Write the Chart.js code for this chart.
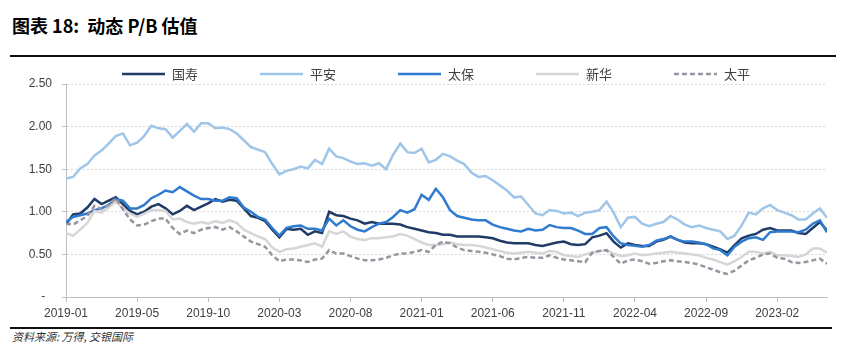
<!DOCTYPE html>
<html><head><meta charset="utf-8">
<script src="https://cdn.jsdelivr.net/npm/chart.js@4.4.1/dist/chart.umd.min.js"></script>
<style>
html,body{margin:0;padding:0;background:#fff;width:842px;height:355px;overflow:hidden;}
#title{position:absolute;left:12px;top:12px;font:bold 18px "Noto Sans CJK SC","Noto Sans",sans-serif;color:#000;white-space:nowrap;}
#rule1{position:absolute;left:10px;top:55px;width:826px;height:2px;background:#111;}
#wrap{position:absolute;left:0;top:57px;width:842px;height:270px;}
#rule2{position:absolute;left:10px;top:327px;width:822px;height:2px;background:#111;}
#src{position:absolute;left:12px;top:328px;font:italic 11px "Noto Sans CJK SC",sans-serif;color:#333;white-space:nowrap;}
</style></head>
<body>
<div id="title">图表 18:&nbsp; 动态 P/B 估值</div>
<div id="rule1"></div>
<div id="wrap"><canvas id="c" width="842" height="270"></canvas></div>
<div id="rule2"></div>
<div id="src">资料来源: 万得, 交银国际</div>
<script>
// half-month samples starting 2019-01
const seriesNames = ['国寿','平安','太保','新华','太平'];
const tickLabels = ['2019-01','2019-05','2019-10','2020-03','2020-08','2021-01','2021-06','2021-11','2022-04','2022-09','2023-02'];
const yTickLabels = ['-  ','0.50','1.00','1.50','2.00','2.50'];

const guoshou = [0.85,0.97,0.98,1.05,1.15,1.09,1.13,1.17,1.09,1.01,0.97,1.00,1.06,1.09,1.04,0.97,1.01,1.07,1.02,1.06,1.10,1.15,1.12,1.14,1.13,1.04,0.95,0.93,0.89,0.79,0.70,0.80,0.79,0.80,0.73,0.77,0.75,1.00,0.96,0.95,0.92,0.90,0.86,0.88,0.86,0.86,0.86,0.85,0.82,0.80,0.78,0.76,0.75,0.73,0.73,
 0.71,0.71,0.71,0.71,0.70,0.69,0.66,0.64,0.63,0.63,0.63,0.61,0.60,0.62,0.64,0.65,0.62,0.61,0.62,0.70,0.72,0.75,0.65,0.58,0.63,0.61,0.60,0.60,0.65,0.67,0.71,0.67,0.64,0.63,0.63,0.62,0.59,0.56,0.52,0.61,0.69,0.72,0.74,0.79,0.81,0.78,0.78,0.78,0.75,0.74,0.81,0.88,0.78];
const pingan = [1.39,1.41,1.51,1.56,1.66,1.72,1.80,1.89,1.92,1.78,1.81,1.89,2.01,1.98,1.97,1.87,1.95,2.03,1.94,2.04,2.04,1.98,1.99,1.97,1.92,1.84,1.76,1.73,1.70,1.56,1.44,1.48,1.50,1.53,1.51,1.61,1.56,1.74,1.65,1.63,1.59,1.56,1.57,1.54,1.57,1.50,1.67,1.80,1.70,1.69,1.74,1.58,1.61,1.68,1.65,
 1.60,1.56,1.46,1.41,1.42,1.37,1.31,1.25,1.17,1.18,1.08,0.98,0.96,1.02,1.01,0.98,0.99,0.95,0.99,1.00,1.02,1.12,0.99,0.82,0.93,0.94,0.86,0.83,0.86,0.88,0.95,0.91,0.85,0.82,0.84,0.81,0.79,0.77,0.68,0.72,0.84,0.99,0.97,1.04,1.08,1.02,0.99,0.96,0.91,0.91,0.98,1.04,0.93];
const taibao = [0.88,0.94,0.96,0.98,1.02,1.04,1.08,1.15,1.13,1.04,1.04,1.08,1.16,1.20,1.25,1.23,1.29,1.24,1.19,1.15,1.15,1.13,1.13,1.17,1.16,1.05,1.00,0.94,0.91,0.81,0.72,0.81,0.83,0.84,0.80,0.80,0.78,0.92,0.84,0.90,0.83,0.79,0.77,0.82,0.86,0.88,0.94,1.02,0.99,1.03,1.20,1.14,1.27,1.17,1.02,
 0.95,0.93,0.91,0.90,0.90,0.85,0.82,0.80,0.78,0.77,0.80,0.78,0.79,0.845,0.82,0.81,0.81,0.78,0.74,0.74,0.81,0.82,0.71,0.63,0.61,0.60,0.59,0.61,0.66,0.68,0.71,0.67,0.65,0.65,0.64,0.62,0.57,0.55,0.49,0.59,0.65,0.69,0.70,0.67,0.76,0.77,0.77,0.77,0.76,0.79,0.86,0.90,0.76];
const xinhua = [0.75,0.72,0.79,0.87,1.01,0.99,1.05,1.12,1.04,0.98,0.94,0.98,1.02,1.02,1.01,0.91,0.92,0.88,0.86,0.88,0.86,0.89,0.87,0.90,0.87,0.79,0.75,0.71,0.68,0.58,0.53,0.56,0.57,0.59,0.61,0.63,0.59,0.77,0.74,0.77,0.71,0.68,0.67,0.69,0.69,0.70,0.71,0.74,0.72,0.68,0.64,0.61,0.61,0.62,0.64,
 0.62,0.61,0.61,0.60,0.58,0.56,0.54,0.52,0.51,0.52,0.53,0.52,0.51,0.54,0.53,0.49,0.48,0.47,0.50,0.52,0.54,0.55,0.51,0.48,0.49,0.51,0.49,0.50,0.51,0.52,0.53,0.52,0.51,0.50,0.49,0.46,0.44,0.41,0.38,0.42,0.47,0.53,0.53,0.51,0.53,0.49,0.49,0.48,0.47,0.50,0.57,0.57,0.52];
const taiping = [0.86,0.85,0.90,0.95,1.07,1.03,1.08,1.16,1.03,0.91,0.84,0.85,0.89,0.92,0.92,0.81,0.74,0.78,0.75,0.79,0.81,0.82,0.79,0.82,0.77,0.71,0.65,0.62,0.59,0.49,0.42,0.44,0.44,0.43,0.41,0.44,0.45,0.55,0.51,0.51,0.48,0.45,0.43,0.43,0.44,0.46,0.49,0.51,0.51,0.53,0.55,0.53,0.61,0.65,0.63,
 0.58,0.55,0.54,0.53,0.52,0.50,0.48,0.45,0.44,0.46,0.47,0.46,0.46,0.49,0.46,0.44,0.43,0.42,0.41,0.52,0.54,0.55,0.47,0.39,0.43,0.44,0.42,0.39,0.40,0.42,0.43,0.42,0.41,0.40,0.38,0.35,0.32,0.29,0.27,0.31,0.37,0.43,0.46,0.50,0.51,0.46,0.45,0.41,0.40,0.41,0.43,0.45,0.39];

const STEP = 0.5; // months per sample
const toPts = arr => arr.map((v,i)=>({x:i*STEP, y:v}));
const allSeries = [guoshou,pingan,taibao,xinhua,taiping];
const colors = ['#1f3b66','#9fc5e8','#2f7bd0','#d6d6d6','#9b94a0'];
const dashes = [[],[],[],[],[5,3]];
const orders = [5,4,3,2,1];

const datasets = allSeries.map((arr,i)=>({
  label: seriesNames[i],
  data: toPts(arr),
  borderColor: colors[i],
  backgroundColor: colors[i],
  borderWidth: 2.5,
  borderDash: dashes[i],
  pointRadius: 0,
  tension: 0,
  order: orders[i],
  fill: false
}));

const legendPlugin = {
  id: 'customLegend',
  afterDraw(chart){
    const ctx = chart.ctx;
    const y = 17;
    ctx.save();
    datasets.forEach((ds,i)=>{
      const x0 = 122 + i*138;
      ctx.beginPath();
      ctx.strokeStyle = ds.borderColor;
      ctx.lineWidth = 2.5;
      ctx.setLineDash(ds.borderDash);
      ctx.moveTo(x0, y);
      ctx.lineTo(x0+43, y);
      ctx.stroke();
      ctx.setLineDash([]);
      ctx.fillStyle = '#404040';
      ctx.font = '13px "Noto Sans CJK SC", sans-serif';
      ctx.textBaseline = 'middle';
      ctx.textAlign = 'left';
      ctx.fillText(ds.label, x0+50, y);
    });
    ctx.restore();
  }
};

new Chart(document.getElementById('c'), {
  type: 'line',
  data: { datasets },
  options: {
    responsive: false,
    animation: false,
    events: [],
    layout: { padding: { top: 27, right: 15, left: 0, bottom: 0 } },
    plugins: { legend: { display: false }, tooltip: { enabled: false } },
    scales: {
      x: {
        type: 'linear',
        min: 0,
        max: 53.5,
        afterBuildTicks: s => { s.ticks = tickLabels.map((t,i)=>({value:i*5})); },
        afterFit: s => { s.height = 30; },
        ticks: {
          autoSkip: false,
          maxRotation: 0,
          padding: 4,
          color: '#404040',
          font: { family: '"Liberation Sans", Arial, sans-serif', size: 12 },
          callback: (v) => tickLabels[Math.round(v/5)] ?? ''
        },
        grid: { drawOnChartArea: false, drawTicks: true, tickLength: 5, color: '#bfbfbf' },
        border: { display: true, color: '#bfbfbf', width: 1 }
      },
      y: {
        min: 0,
        max: 2.5,
        afterBuildTicks: s => { s.ticks = yTickLabels.map((t,i)=>({value:i*0.5})); },
        afterFit: s => { s.width = 66; },
        ticks: {
          padding: 10,
          color: '#404040',
          font: { family: '"Liberation Sans", Arial, sans-serif', size: 12 },
          callback: (v) => yTickLabels[Math.round(v/0.5)]
        },
        grid: { color: '#d9d9d9', lineWidth: 1, tickLength: 4, tickColor: '#bfbfbf', tickBorderDash: [] },
        border: { display: true, color: '#bfbfbf', width: 1, dash: [2,2] }
      }
    }
  },
  plugins: [legendPlugin]
});
</script>
</body></html>
